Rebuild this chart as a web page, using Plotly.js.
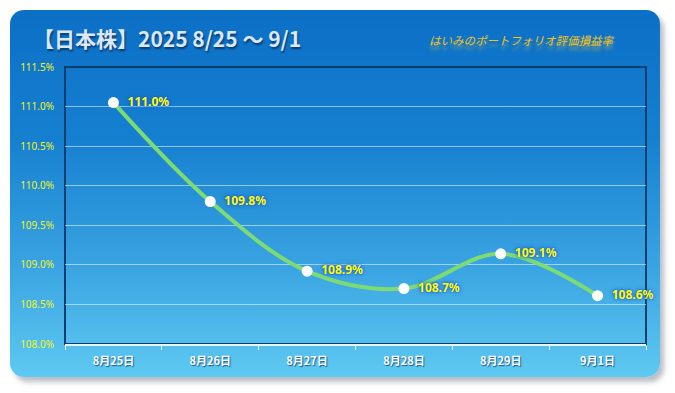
<!DOCTYPE html>
<html><head><meta charset="utf-8">
<script src="https://cdn.plot.ly/plotly-3.0.1.min.js"></script>
<style>
html,body{margin:0;padding:0;background:#fff;width:675px;height:393px;overflow:hidden;}
#card{position:absolute;left:10px;top:10px;width:650px;height:367px;border-radius:14px;
background:linear-gradient(to bottom,#0b6fc6 0%,#1680d0 35%,#3aa4e2 70%,#5ec9f1 100%);
box-shadow:4px 5px 5px rgba(60,70,90,0.35);}
#chart{position:absolute;left:0;top:0;width:675px;height:393px;}
</style></head>
<body>
<div id="card"></div>
<div id="chart"></div>
<script>
const categories = ['8月25日','8月26日','8月27日','8月28日','8月29日','9月1日'];
const values = [111.05, 109.80, 108.92, 108.70, 109.14, 108.61];
const valueLabels = ['111.0%','109.8%','108.9%','108.7%','109.1%','108.6%'];
const titleText = '【日本株】2025 8/25 〜 9/1';
const subtitleText = 'はいみのポートフォリオ評価損益率';

const trace = {
  x: categories, y: values, type: 'scatter', mode: 'lines+markers+text',
  line: {shape: 'spline', smoothing: 1, color: '#7edb72', width: 4},
  marker: {color: '#ffffff', size: 11},
  text: valueLabels.map(t => '  ' + t),
  textposition: 'middle right',
  textfont: {family: 'Noto Sans, sans-serif', size: 12, color: '#ffff00', weight: 'bold',
    shadow: '0px 0px 2px #1b55d6, 0px 0px 4px #1b55d6'},
  hoverinfo: 'none', cliponaxis: false
};

const layout = {
  width: 675, height: 393,
  paper_bgcolor: 'rgba(0,0,0,0)', plot_bgcolor: 'rgba(0,0,0,0)',
  margin: {l: 65, r: 29, t: 67, b: 49},
  showlegend: false,
  title: {text: titleText, xref: 'container', yref: 'container', x: 33/675, xanchor: 'left',
    y: 1 - 40/393, yanchor: 'middle',
    font: {family: 'Noto Sans CJK JP, sans-serif', size: 21, color: '#dde8f4', weight: 'bold',
      shadow: '1px 2px 2px #0a3a70'}},
  xaxis: {type: 'category', range: [-0.5, 5.5], showgrid: false, zeroline: false,
    showline: true, linecolor: '#e8f4fb', linewidth: 1.5,
    ticks: 'outside', tickson: 'boundaries', ticklen: 4, tickcolor: '#e8f4fb',
    ticklabelstandoff: 6,
    tickfont: {family: 'Noto Sans CJK JP, sans-serif', size: 11, color: '#ffffff', weight: 'bold',
      shadow: '1px 1px 1px #1a5a90'}},
  yaxis: {range: [108, 111.5], dtick: 0.5, tick0: 108, tickformat: '.1f', ticksuffix: '%',
    showgrid: true, gridcolor: 'rgba(225,240,255,0.6)', gridwidth: 1, zeroline: false,
    showline: false, ticks: '', ticklabelstandoff: 10,
    tickfont: {family: 'Noto Sans, sans-serif', size: 10, color: '#eef520'}},
  shapes: [{type: 'rect', xref: 'paper', yref: 'paper', x0: 0, x1: 1, y0: 0, y1: 1,
    line: {color: '#0b3d6e', width: 2}, layer: 'below'}],
  annotations: [{text: subtitleText, xref: 'paper', yref: 'paper', x: (521-65)/581, y: (344-40)/277,
    xanchor: 'center', yanchor: 'middle', showarrow: false,
    font: {family: 'Noto Sans CJK JP, sans-serif', size: 11.5, color: '#f4c21a', style: 'italic',
      shadow: '0px 5px 3px rgba(240,200,40,0.45)'}}]
};

Plotly.newPlot('chart', [trace], layout, {displayModeBar: false, staticPlot: true});
</script>
</body></html>
